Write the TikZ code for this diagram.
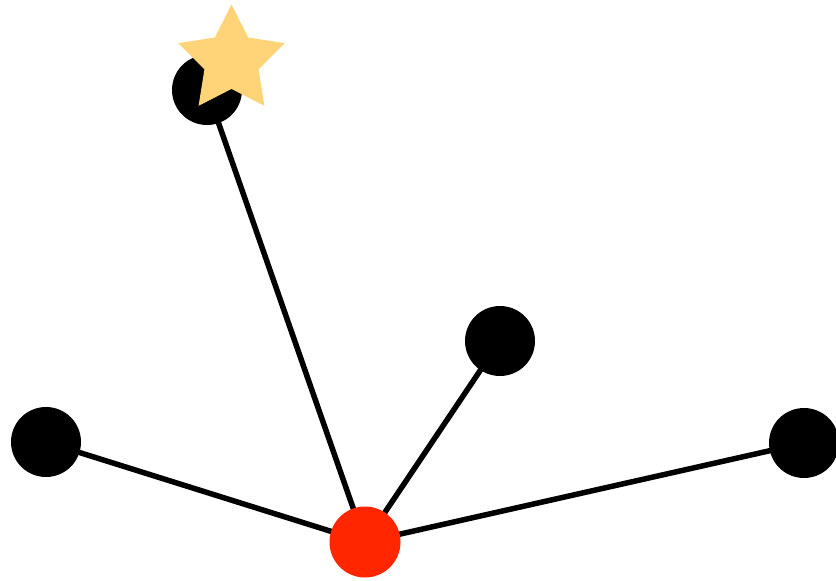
\documentclass[tikz,border=0pt]{standalone}
\usetikzlibrary{shapes.geometric}
\definecolor{hubred}{HTML}{FF2600}
\definecolor{starfill}{HTML}{FFD479}
\tikzset{
  leaf/.style={circle,fill=black,minimum size=70pt,inner sep=0pt},
  hub/.style={circle,fill=hubred,minimum size=71pt,inner sep=0pt},
  edge/.style={line width=5.5pt,black},
  mark star/.style={star,star points=5,star point ratio=1.97,fill=starfill,minimum size=112pt,inner sep=0pt}
}
\begin{document}
\begin{tikzpicture}[x=1pt,y=-1pt]
\useasboundingbox (0,0) rectangle (836,581);
\coordinate (pc) at (365,542);
\coordinate (pl) at (46,442);
\coordinate (pt) at (207,90);
\coordinate (pm) at (500,341);
\coordinate (pr) at (804,443);
\draw[edge] (pc) -- (pl);
\draw[edge] (pc) -- (pt);
\draw[edge] (pc) -- (pm);
\draw[edge] (pc) -- (pr);
\node[leaf] (l) at (pl) {};
\node[leaf] (t) at (pt) {};
\node[leaf] (m) at (pm) {};
\node[leaf] (r) at (pr) {};
\node[hub] (c) at (pc) {};
\node[mark star] (s) at (231.5,60.5) {};
\end{tikzpicture}
\end{document}
